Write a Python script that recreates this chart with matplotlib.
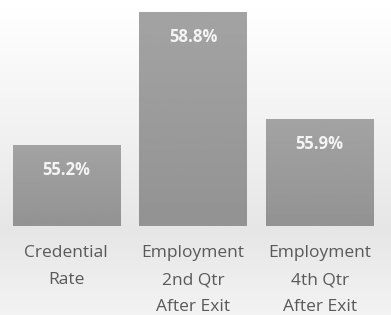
import numpy as np
import matplotlib.pyplot as plt

categories = ["Credential\nRate", "Employment\n2nd Qtr\nAfter Exit", "Employment\n4th Qtr\nAfter Exit"]
values = [55.2, 58.8, 55.9]
labels = ["55.2%", "58.8%", "55.9%"]

fig = plt.figure(figsize=(3.91, 3.15), dpi=100)

# background: light vertical gradient
bg = fig.add_axes([0, 0, 1, 1], zorder=0)
col = np.concatenate([np.linspace(1.0, 0.90, 230), np.linspace(0.90, 0.95, 85)])
bg.imshow(col[:, None], cmap="gray", vmin=0, vmax=1, aspect="auto",
          extent=[0, 1, 0, 1], origin="upper")
bg.set_axis_off()

ax = fig.add_axes([3 / 391, 89 / 315, 380 / 391, 226 / 315], zorder=1)
ax.patch.set_alpha(0)
x = np.arange(len(values))
bars = ax.bar(x, values, width=0.846, color="#9c9c9c", bottom=0)

grad = np.linspace(0.64, 0.575, 100)[:, None]
for b in bars:
    x0 = b.get_x()
    im = ax.imshow(grad, cmap="gray", vmin=0, vmax=1, aspect="auto",
                   extent=[x0, x0 + b.get_width(), 53, b.get_height()],
                   origin="upper", zorder=2)
    im.set_clip_path(b)
ax.set_xlim(-0.5, 2.5)
ax.set_ylim(53, 59.12)

for xi, v, lab in zip(x, values, labels):
    ax.annotate(lab, (xi, v), xytext=(0, -18), textcoords="offset points",
                ha="center", va="center", color="#f4f4f4", fontsize=12,
                fontweight="bold", family="Open Sans", zorder=3)

ax.set_xticks(x)
ax.set_xticklabels(categories, fontsize=12.5, color="#595959", family="Open Sans",
                   linespacing=1.88)
ax.tick_params(axis="x", length=0, pad=14)
ax.set_yticks([])
for s in ax.spines.values():
    s.set_visible(False)

fig.savefig("out.png", dpi=100)
